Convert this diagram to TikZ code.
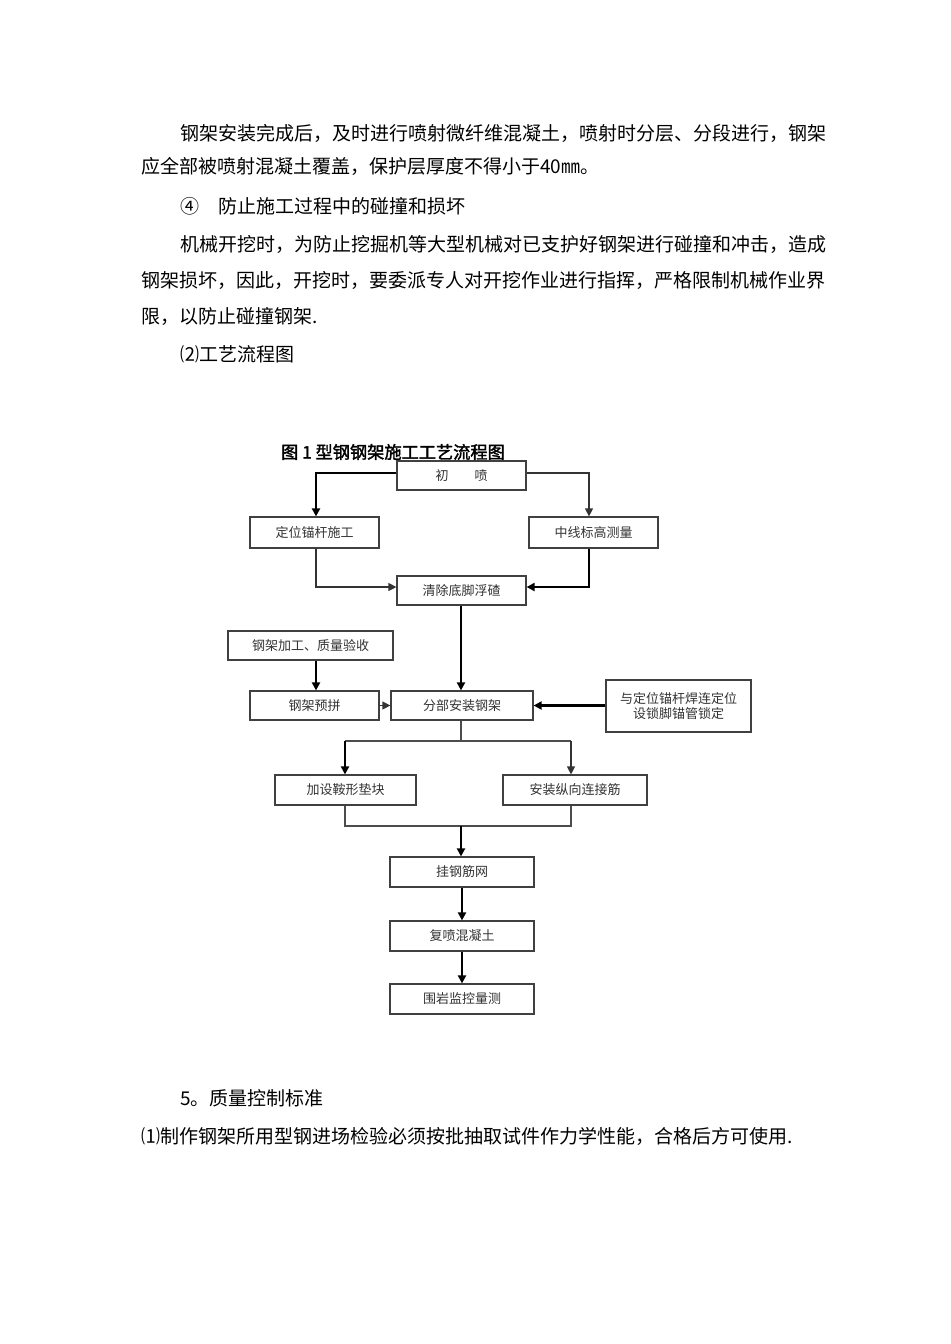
\documentclass[tikz,border=0pt]{standalone}
\usepackage{fontspec}
\setmainfont[AutoFakeBold=2]{Noto Sans CJK SC}
\usetikzlibrary{arrows.meta}
\begin{document}
\begin{tikzpicture}[x=0.5pt,y=-0.5pt,
  box/.style={draw=black!75,line width=0.6pt,inner sep=0pt,font=\fontsize{6.5}{7.5}\selectfont,text=black!80},
  thk/.style={line width=1.4pt,-{Triangle[length=4pt,width=4pt]}},
  thn/.style={line width=0.6pt,black!80,-{Triangle[length=4pt,width=4pt]}},
  ln/.style={line width=0.6pt,black!70},
  body/.style={anchor=west,inner sep=0pt,font=\fontsize{9.5}{11}\selectfont}]
\useasboundingbox[fill=white] (0,0) rectangle (950,1344);
% body text
\node[body] (t1) at (180,133) {钢架安装完成后，及时进行喷射微纤维混凝土，喷射时分层、分段进行，钢架};
\node[body] (t2) at (141,166) {应全部被喷射混凝土覆盖，保护层厚度不得小于40㎜。};
\node[body] (t3) at (180,206) {④\quad 防止施工过程中的碰撞和损坏};
\node[body] (t4) at (180,244) {机械开挖时，为防止挖掘机等大型机械对已支护好钢架进行碰撞和冲击，造成};
\node[body] (t5) at (141,280) {钢架损坏，因此，开挖时，要委派专人对开挖作业进行指挥，严格限制机械作业界};
\node[body] (t6) at (141,316) {限，以防止碰撞钢架.};
\node[body] (t7) at (180,354) {⑵工艺流程图};
\node[body] (t8) at (180,1098) {5。质量控制标准};
\node[body] (t9) at (141,1136) {⑴制作钢架所用型钢进场检验必须按批抽取试件作力学性能，合格后方可使用.};
% title
\node[inner sep=0pt,font=\fontsize{8.6}{9.5}\selectfont\bfseries] (title) at (393,452) {图 1 型钢钢架施工工艺流程图};
% boxes
\newcommand{\bx}[6]{\node[box,minimum width=#4*0.5pt,minimum height=#5*0.5pt,align=center] (#1) at (#2,#3) {#6};}
\bx{a}{461.5}{475.5}{129}{29}{初\qquad 喷}
\bx{b}{314.5}{532.5}{129}{31}{定位锚杆施工}
\bx{c}{593.5}{532.5}{129}{31}{中线标高测量}
\bx{d}{461.5}{590.5}{129}{29}{清除底脚浮碴}
\bx{e}{310.5}{645.5}{165}{29}{钢架加工、质量验收}
\bx{f}{314.5}{705.5}{129}{29}{钢架预拼}
\bx{g}{462}{705.5}{142}{29}{分部安装钢架}
\bx{h}{678.5}{706}{145}{52}{与定位锚杆焊连定位\\设锁脚锚管锁定}
\bx{i}{345.5}{790}{141}{30}{加设鞍形垫块}
\bx{j}{575}{790}{144}{30}{安装纵向连接筋}
\bx{k}{462}{872}{144}{30}{挂钢筋网}
\bx{l}{462}{936}{144}{30}{复喷混凝土}
\bx{m}{462}{999}{144}{30}{围岩监控量测}
% coordinates
\coordinate (s1) at (345,741);
\coordinate (s2) at (571,741);
\coordinate (s0) at (461,741);
\coordinate (j1) at (345,826);
\coordinate (j2) at (571,826);
\coordinate (j0) at (461,826);
% connectors
\draw[thk] (a.west|-0,473) -| (b.north-|316,0);
\draw[thn] (a.east|-0,473) -| (c.north-|589,0);
\draw[thn] (b.south-|316,0) |- (d.west|-0,587);
\draw[thk] (c.south-|589,0) |- (d.east|-0,587);
\draw[thk] (d.south-|461,0) -- (g.north-|461,0);
\draw[thk] (e.south-|316,0) -- (f.north-|316,0);
\draw[thn] (f.east) -- (g.west);
\draw[thk] (h.west|-g.east) -- (g.east);
\draw[ln] (g.south-|461,0) -- (s0);
\draw[ln] (s1) -- (s2);
\draw[thk] (s1) -- (i.north-|s1);
\draw[thn] (s2) -- (j.north-|s2);
\draw[ln] (i.south-|j1) -- (j1) -- (j2) -- (j.south-|j2);
\draw[thk] (j0) -- (k.north-|j0);
\draw[thk] (k) -- (l);
\draw[thk] (l) -- (m);
\end{tikzpicture}
\end{document}
